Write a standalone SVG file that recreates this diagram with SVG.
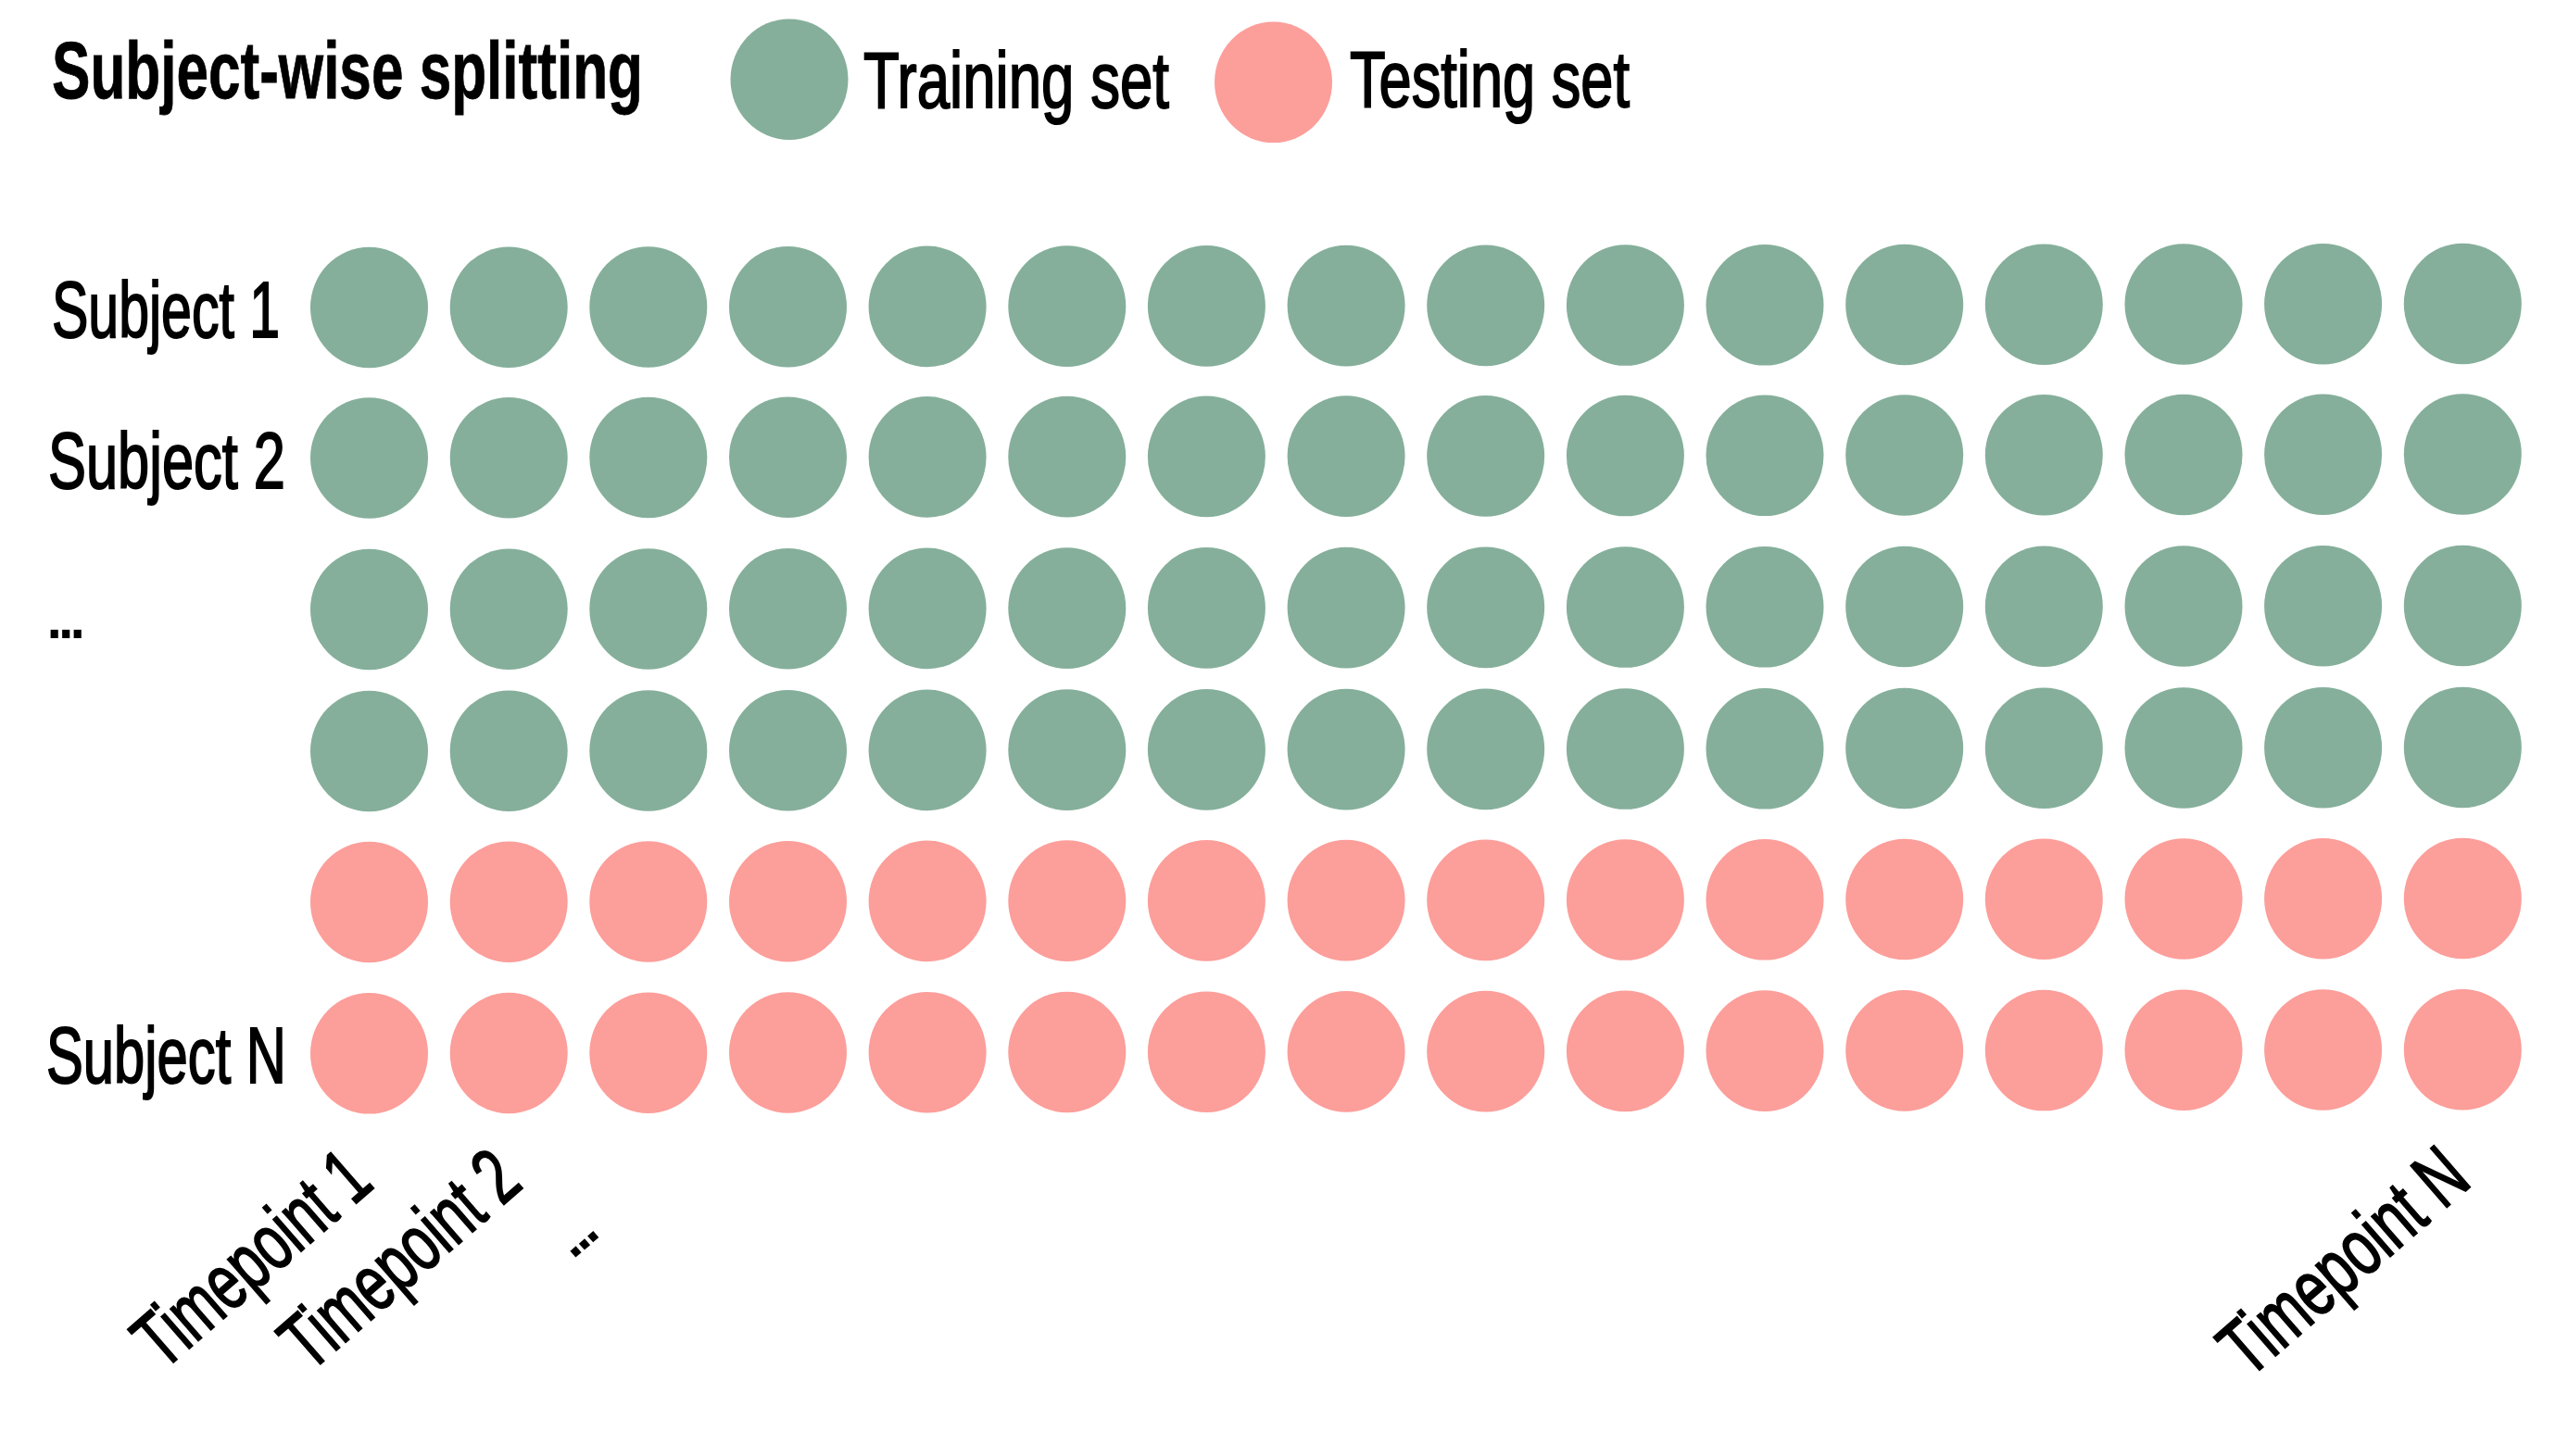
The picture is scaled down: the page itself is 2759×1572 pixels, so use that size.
<svg xmlns="http://www.w3.org/2000/svg" width="2759" height="1572" viewBox="0 0 2759 1572">
<style>
  .bg { fill: #ffffff; }
  .dot { rx: 63.5px; ry: 65.3px; }
  .train { fill: #85AF9B; }
  .test { fill: #FC9E9A; }
  .lbl { font-family: "Liberation Sans", Arial, sans-serif; font-size: 86px; fill: #000000; stroke: #000000; stroke-width: 2px; }
  .ell { stroke: none; }
  .title { font-family: "Liberation Sans", Arial, sans-serif; font-size: 87px; font-weight: bold; fill: #000000; stroke: #000000; stroke-width: 0.8px; }
</style>
<rect class="bg" x="0" y="0" width="2759" height="1572"/>

<g id="title">
  <text class="title" x="56" y="106" textLength="638" lengthAdjust="spacingAndGlyphs">Subject-wise splitting</text>
</g>

<g id="legend-training">
  <ellipse class="dot train" cx="852" cy="85.7"/>
  <text class="lbl" x="932" y="116" textLength="330" lengthAdjust="spacingAndGlyphs">Training set</text>
</g>
<g id="legend-testing">
  <ellipse class="dot test" cx="1374.5" cy="88.8"/>
  <text class="lbl" x="1457" y="115" textLength="302" lengthAdjust="spacingAndGlyphs">Testing set</text>
</g>

<g id="row-labels">
  <text class="lbl" x="56" y="364" textLength="246" lengthAdjust="spacingAndGlyphs">Subject 1</text>
  <text class="lbl" x="52" y="527" textLength="256" lengthAdjust="spacingAndGlyphs">Subject 2</text>
  <text class="lbl ell" x="46.7" y="689" letter-spacing="-11.4">...</text>
  <text class="lbl" x="50" y="1169" textLength="259" lengthAdjust="spacingAndGlyphs">Subject N</text>
</g>

<g id="subject-1" transform="translate(0,332)">
  <ellipse class="dot train" cx="398.5" cy="0"/>
  <ellipse class="dot train" cx="549.2" cy="-0.27"/>
  <ellipse class="dot train" cx="699.8" cy="-0.54"/>
  <ellipse class="dot train" cx="850.5" cy="-0.81"/>
  <ellipse class="dot train" cx="1001.1" cy="-1.08"/>
  <ellipse class="dot train" cx="1151.8" cy="-1.35"/>
  <ellipse class="dot train" cx="1302.4" cy="-1.62"/>
  <ellipse class="dot train" cx="1453.1" cy="-1.89"/>
  <ellipse class="dot train" cx="1603.7" cy="-2.16"/>
  <ellipse class="dot train" cx="1754.4" cy="-2.43"/>
  <ellipse class="dot train" cx="1905.0" cy="-2.7"/>
  <ellipse class="dot train" cx="2055.7" cy="-2.97"/>
  <ellipse class="dot train" cx="2206.3" cy="-3.24"/>
  <ellipse class="dot train" cx="2357.0" cy="-3.51"/>
  <ellipse class="dot train" cx="2507.6" cy="-3.78"/>
  <ellipse class="dot train" cx="2658.3" cy="-4.05"/>
</g>
<g id="subject-2" transform="translate(0,494.5)">
  <ellipse class="dot train" cx="398.5" cy="0"/>
  <ellipse class="dot train" cx="549.2" cy="-0.27"/>
  <ellipse class="dot train" cx="699.8" cy="-0.54"/>
  <ellipse class="dot train" cx="850.5" cy="-0.81"/>
  <ellipse class="dot train" cx="1001.1" cy="-1.08"/>
  <ellipse class="dot train" cx="1151.8" cy="-1.35"/>
  <ellipse class="dot train" cx="1302.4" cy="-1.62"/>
  <ellipse class="dot train" cx="1453.1" cy="-1.89"/>
  <ellipse class="dot train" cx="1603.7" cy="-2.16"/>
  <ellipse class="dot train" cx="1754.4" cy="-2.43"/>
  <ellipse class="dot train" cx="1905.0" cy="-2.7"/>
  <ellipse class="dot train" cx="2055.7" cy="-2.97"/>
  <ellipse class="dot train" cx="2206.3" cy="-3.24"/>
  <ellipse class="dot train" cx="2357.0" cy="-3.51"/>
  <ellipse class="dot train" cx="2507.6" cy="-3.78"/>
  <ellipse class="dot train" cx="2658.3" cy="-4.05"/>
</g>
<g id="subject-3" transform="translate(0,658)">
  <ellipse class="dot train" cx="398.5" cy="0"/>
  <ellipse class="dot train" cx="549.2" cy="-0.27"/>
  <ellipse class="dot train" cx="699.8" cy="-0.54"/>
  <ellipse class="dot train" cx="850.5" cy="-0.81"/>
  <ellipse class="dot train" cx="1001.1" cy="-1.08"/>
  <ellipse class="dot train" cx="1151.8" cy="-1.35"/>
  <ellipse class="dot train" cx="1302.4" cy="-1.62"/>
  <ellipse class="dot train" cx="1453.1" cy="-1.89"/>
  <ellipse class="dot train" cx="1603.7" cy="-2.16"/>
  <ellipse class="dot train" cx="1754.4" cy="-2.43"/>
  <ellipse class="dot train" cx="1905.0" cy="-2.7"/>
  <ellipse class="dot train" cx="2055.7" cy="-2.97"/>
  <ellipse class="dot train" cx="2206.3" cy="-3.24"/>
  <ellipse class="dot train" cx="2357.0" cy="-3.51"/>
  <ellipse class="dot train" cx="2507.6" cy="-3.78"/>
  <ellipse class="dot train" cx="2658.3" cy="-4.05"/>
</g>
<g id="subject-4" transform="translate(0,811)">
  <ellipse class="dot train" cx="398.5" cy="0"/>
  <ellipse class="dot train" cx="549.2" cy="-0.27"/>
  <ellipse class="dot train" cx="699.8" cy="-0.54"/>
  <ellipse class="dot train" cx="850.5" cy="-0.81"/>
  <ellipse class="dot train" cx="1001.1" cy="-1.08"/>
  <ellipse class="dot train" cx="1151.8" cy="-1.35"/>
  <ellipse class="dot train" cx="1302.4" cy="-1.62"/>
  <ellipse class="dot train" cx="1453.1" cy="-1.89"/>
  <ellipse class="dot train" cx="1603.7" cy="-2.16"/>
  <ellipse class="dot train" cx="1754.4" cy="-2.43"/>
  <ellipse class="dot train" cx="1905.0" cy="-2.7"/>
  <ellipse class="dot train" cx="2055.7" cy="-2.97"/>
  <ellipse class="dot train" cx="2206.3" cy="-3.24"/>
  <ellipse class="dot train" cx="2357.0" cy="-3.51"/>
  <ellipse class="dot train" cx="2507.6" cy="-3.78"/>
  <ellipse class="dot train" cx="2658.3" cy="-4.05"/>
</g>
<g id="subject-5" transform="translate(0,974)">
  <ellipse class="dot test" cx="398.5" cy="0"/>
  <ellipse class="dot test" cx="549.2" cy="-0.27"/>
  <ellipse class="dot test" cx="699.8" cy="-0.54"/>
  <ellipse class="dot test" cx="850.5" cy="-0.81"/>
  <ellipse class="dot test" cx="1001.1" cy="-1.08"/>
  <ellipse class="dot test" cx="1151.8" cy="-1.35"/>
  <ellipse class="dot test" cx="1302.4" cy="-1.62"/>
  <ellipse class="dot test" cx="1453.1" cy="-1.89"/>
  <ellipse class="dot test" cx="1603.7" cy="-2.16"/>
  <ellipse class="dot test" cx="1754.4" cy="-2.43"/>
  <ellipse class="dot test" cx="1905.0" cy="-2.7"/>
  <ellipse class="dot test" cx="2055.7" cy="-2.97"/>
  <ellipse class="dot test" cx="2206.3" cy="-3.24"/>
  <ellipse class="dot test" cx="2357.0" cy="-3.51"/>
  <ellipse class="dot test" cx="2507.6" cy="-3.78"/>
  <ellipse class="dot test" cx="2658.3" cy="-4.05"/>
</g>
<g id="subject-N" transform="translate(0,1137.3)">
  <ellipse class="dot test" cx="398.5" cy="0"/>
  <ellipse class="dot test" cx="549.2" cy="-0.27"/>
  <ellipse class="dot test" cx="699.8" cy="-0.54"/>
  <ellipse class="dot test" cx="850.5" cy="-0.81"/>
  <ellipse class="dot test" cx="1001.1" cy="-1.08"/>
  <ellipse class="dot test" cx="1151.8" cy="-1.35"/>
  <ellipse class="dot test" cx="1302.4" cy="-1.62"/>
  <ellipse class="dot test" cx="1453.1" cy="-1.89"/>
  <ellipse class="dot test" cx="1603.7" cy="-2.16"/>
  <ellipse class="dot test" cx="1754.4" cy="-2.43"/>
  <ellipse class="dot test" cx="1905.0" cy="-2.7"/>
  <ellipse class="dot test" cx="2055.7" cy="-2.97"/>
  <ellipse class="dot test" cx="2206.3" cy="-3.24"/>
  <ellipse class="dot test" cx="2357.0" cy="-3.51"/>
  <ellipse class="dot test" cx="2507.6" cy="-3.78"/>
  <ellipse class="dot test" cx="2658.3" cy="-4.05"/>
</g>

<g id="timepoint-labels">
  <text class="lbl" transform="translate(175.5,1481) rotate(-41)" x="0" y="0" textLength="305" lengthAdjust="spacingAndGlyphs">Timepoint 1</text>
  <text class="lbl" transform="translate(334,1483) rotate(-41)" x="0" y="0" textLength="308" lengthAdjust="spacingAndGlyphs">Timepoint 2</text>
  <text class="lbl ell" transform="translate(621.7,1351.7) rotate(-41)" x="-12" y="4.3" letter-spacing="-11.4">...</text>
  <text class="lbl" transform="translate(2427,1489.5) rotate(-41)" x="0" y="0" textLength="322" lengthAdjust="spacingAndGlyphs">Timepoint N</text>
</g>
</svg>
